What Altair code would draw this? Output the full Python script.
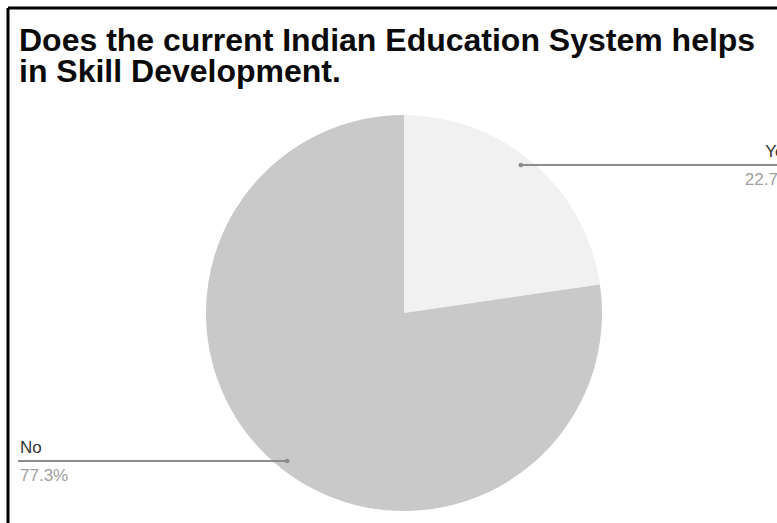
import math
import altair as alt
import pandas as pd

# ---- data ----
categories = ["Yes", "No"]
values = [22.7, 77.3]
pct_labels = ["22.7%", "77.3%"]
colors = ["#f1f1f1", "#c9c9c9"]
title_lines = ["Does the current Indian Education System helps", "in Skill Development."]

# ---- layout constants ----
W, H = 777, 523
CX, CY = 404, 313
R = 198
RX, RY = 188, 206  # anchor ellipse (reference is slightly stretched)

pie_df = pd.DataFrame({"cat": categories, "val": values, "order": [0, 1]})

# leader anchors computed from slice mid-angles
total = sum(values)
rows = []
start = 0.0
for c, v, p in zip(categories, values, pct_labels):
    mid = (start + v / 2) / total * 2 * math.pi
    start += v
    ax = CX + 0.95 * RX * math.sin(mid)
    ay = CY - 0.95 * RY * math.cos(mid)
    side = "right" if math.sin(mid) >= 0 else "left"
    if side == "right":
        x_end, tx = W, 793
    else:
        x_end, tx = 18, 20
    rows.append(dict(cat=c, pct=p, ax=ax, ay=ay, xend=x_end, tx=tx, side=side,
                     ny=ay - 8, py=ay + 20))
lab = pd.DataFrame(rows)

pie = alt.Chart(pie_df).mark_arc(radius=R, stroke=None).encode(
    theta=alt.Theta("val:Q", stack=True),
    order=alt.Order("order:Q"),
    color=alt.Color("cat:N", scale=alt.Scale(domain=categories, range=colors), legend=None),
    x=alt.value(CX),
    y=alt.value(CY),
)

base = alt.Chart(lab)
leaders = base.mark_rule(color="#8c8c8c", strokeWidth=2).encode(
    x=alt.X("ax:Q", scale=None), x2="xend:Q", y=alt.Y("ay:Q", scale=None)
)
dots = base.mark_circle(color="#8c8c8c", size=22, opacity=1).encode(
    x=alt.X("ax:Q", scale=None), y=alt.Y("ay:Q", scale=None)
)

def side_text(side, align):
    b = base.transform_filter(alt.datum.side == side)
    name = b.mark_text(align=align, baseline="alphabetic", fontSize=17,
                       font="Liberation Sans", color="#333333").encode(
        x=alt.X("tx:Q", scale=None), y=alt.Y("ny:Q", scale=None), text="cat:N")
    pct = b.mark_text(align=align, baseline="alphabetic", fontSize=17,
                      font="Liberation Sans", color="#a0a0a0").encode(
        x=alt.X("tx:Q", scale=None), y=alt.Y("py:Q", scale=None), text="pct:N")
    return name + pct

title = alt.Chart(pd.DataFrame({"t": [0]})).mark_text(
    align="left", baseline="alphabetic", fontSize=32, fontWeight="bold",
    font="Liberation Sans", color="#0a0a0a", lineHeight=31,
).encode(x=alt.value(19), y=alt.value(51), text=alt.value(title_lines))

border_top = alt.Chart(pd.DataFrame({"t": [0]})).mark_rule(color="#000000", strokeWidth=3).encode(
    x=alt.value(8), x2=alt.value(W), y=alt.value(8))
border_left = alt.Chart(pd.DataFrame({"t": [0]})).mark_rule(color="#000000", strokeWidth=3).encode(
    x=alt.value(8), y=alt.value(8), y2=alt.value(H))

chart = alt.layer(
    pie, leaders, dots, side_text("right", "right"), side_text("left", "left"),
    title, border_top, border_left
).properties(
    width=W, height=H, padding=0, autosize=alt.AutoSizeParams(type="none"),
    background="#ffffff"
).configure_view(stroke=None)

chart.save("out.html", embed_options={"renderer": "svg", "actions": False})
